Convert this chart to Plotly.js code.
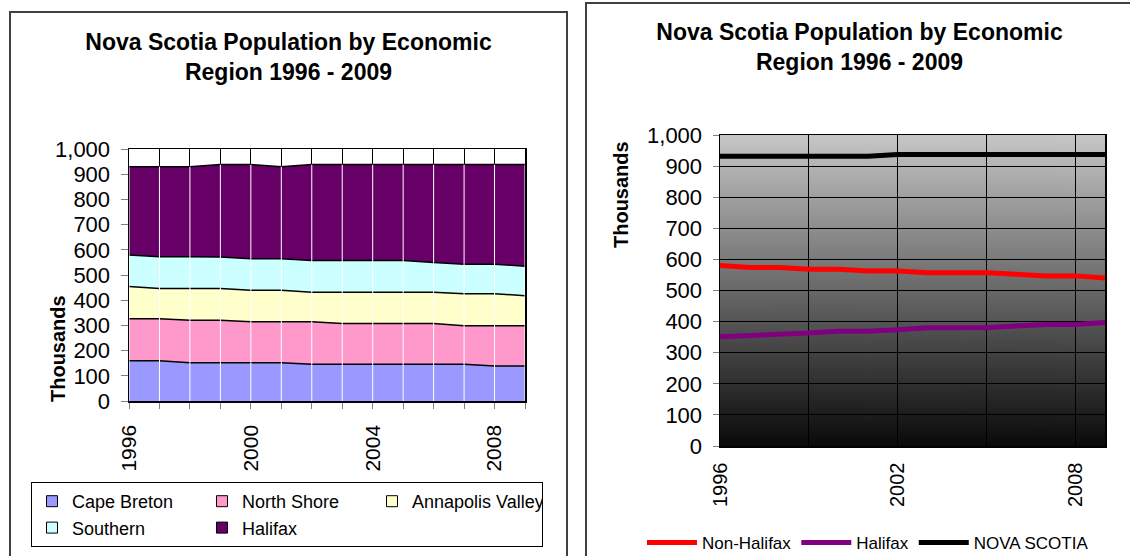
<!DOCTYPE html>
<html>
<head>
<meta charset="utf-8">
<script src="https://cdn.plot.ly/plotly-3.0.1.min.js"></script>
<style>
  html, body { margin: 0; padding: 0; background: #fff; width: 1130px; height: 556px; overflow: hidden; }
  .panel { position: absolute; border: 2px solid #404040; }
  #left-panel { left: 9px; top: 11px; width: 555px; height: 560px; }
  #right-panel { left: 585px; top: 2px; width: 545px; height: 575px; }
  .chart { width: 100%; height: 100%; }
</style>
</head>
<body>
<div class="panel" id="left-panel"><div class="chart" id="stack-chart"></div></div>
<div class="panel" id="right-panel"><div class="chart" id="line-chart"></div></div>
<script>
// population in thousands
const years = [1996, 1997, 1998, 1999, 2000, 2001, 2002, 2003, 2004, 2005, 2006, 2007, 2008, 2009];

const capeBreton      = [160, 160, 152, 152, 152, 152, 146, 146, 146, 146, 146, 146, 139, 139];
const northShore      = [166, 166, 168, 168, 162, 162, 168, 162, 162, 162, 162, 153, 160, 160];
const annapolisValley = [128, 120, 126, 126, 125, 125, 118, 124, 124, 124, 124, 127, 127, 119];
const southern        = [125, 126, 126, 125, 125, 125, 126, 126, 126, 126, 118, 117, 117, 117];
const halifax         = [351, 358, 358, 367, 374, 366, 380, 380, 380, 380, 388, 395, 395, 403];

const nonHalifaxLine = [580, 574, 574, 568, 568, 563, 563, 557, 557, 557, 552, 547, 547, 540];
const halifaxLine    = [351, 355, 355, 363, 369, 369, 374, 380, 380, 380, 386, 391, 391, 397];
const novaScotiaLine = [932, 932, 932, 932, 932, 932, 937, 937, 937, 937, 937, 937, 937, 937];

const stackSeries = [
  { name: "Cape Breton", values: capeBreton, color: "#9999FF" },
  { name: "North Shore", values: northShore, color: "#FF99CC" },
  { name: "Annapolis Valley", values: annapolisValley, color: "#FFFFCC" },
  { name: "Southern", values: southern, color: "#CCFFFF" },
  { name: "Halifax", values: halifax, color: "#660066" },
];

const lineSeries = [
  { name: "Non-Halifax", values: nonHalifaxLine, color: "#FF0000" },
  { name: "Halifax", values: halifaxLine, color: "#800080" },
  { name: "NOVA SCOTIA", values: novaScotiaLine, color: "#000000" },
];

const leftTicks = [1996, 2000, 2004, 2008];
const rightTicks = [1996, 2002, 2008];
const chartTitle = "Nova Scotia Population by Economic<br>Region 1996 - 2009";

const FONT = "Liberation Sans, Arial, sans-serif";
const config = { displayModeBar: false, staticPlot: true };

function titleBlock(topPx, height) {
  return {
    text: chartTitle,
    font: { family: FONT, size: 23, color: "#000", weight: "bold" },
    xref: "container", yref: "container",
    x: 0.5, xanchor: "center",
    y: 1 - topPx / height, yanchor: "top",
  };
}

function renderStackChart() {
  const W = 555, H = 560;
  const totals = years.map((_, i) => stackSeries.reduce((sum, s) => sum + s.values[i], 0));

  const areaTraces = stackSeries.map((s) => ({
    type: "scatter",
    mode: "lines",
    x: years,
    y: s.values,
    name: s.name,
    stackgroup: "regions",
    fillcolor: s.color,
    line: { color: "#000", width: 1.5 },
    showlegend: false,
  }));

  // square swatches like the Excel legend
  const legendTraces = stackSeries.map((s) => ({
    type: "scatter",
    mode: "markers",
    x: [null],
    y: [null],
    name: s.name,
    marker: { symbol: "square", size: 11, color: s.color, line: { color: "#000", width: 1 } },
  }));

  const dividers = years.map((yr, i) => ({
    type: "line",
    xref: "x", yref: "y",
    x0: yr, x1: yr, y0: 0, y1: totals[i],
    line: { color: "#ffffff", width: 1 },
    layer: "above",
  }));

  Plotly.newPlot("stack-chart", [...areaTraces, ...legendTraces], {
    width: W,
    height: H,
    margin: { l: 118, r: 41, t: 136, b: H - 136 - 252 },
    paper_bgcolor: "#fff",
    plot_bgcolor: "#fff",
    font: { family: FONT, size: 22, color: "#000" },
    title: titleBlock(37, H),
    xaxis: {
      range: [1996, 2009],
      tickmode: "array",
      tickvals: leftTicks,
      ticktext: leftTicks.map(String),
      tickangle: -90,
      tickfont: { size: 21 },
      ticks: "outside",
      ticklen: 6,
      tickcolor: "#808080",
      ticklabelstandoff: 8,
      showgrid: true,
      gridcolor: "#000",
      gridwidth: 1,
      minor: { tick0: 1996, dtick: 1, showgrid: true, gridcolor: "#000", gridwidth: 1, ticks: "outside", ticklen: 6, tickcolor: "#808080" },
      showline: true, mirror: true, linecolor: "#000", linewidth: 1.5,
      zeroline: false,
    },
    yaxis: {
      range: [0, 1000],
      dtick: 100,
      tickformat: ",d",
      ticks: "outside",
      ticklen: 7,
      tickcolor: "#808080",
      ticklabelstandoff: 6,
      showgrid: false,
      showline: true, mirror: true, linecolor: "#000", linewidth: 1.5,
      zeroline: false,
    },
    shapes: dividers,
    annotations: [{
      text: "Thousands",
      xref: "paper", yref: "paper",
      x: (47 - 118) / 396, y: 1 - (336 - 136) / 252,
      xanchor: "center", yanchor: "middle",
      textangle: -90,
      showarrow: false,
      font: { family: FONT, size: 20, color: "#000", weight: "bold" },
    }],
    legend: {
      orientation: "h",
      traceorder: "normal",
      x: (20 - 118) / 396, xanchor: "left",
      y: 1 - (469 - 136) / 252, yanchor: "top",
      entrywidth: 125,
      bgcolor: "#fff",
      bordercolor: "#000",
      borderwidth: 1,
      font: { family: FONT, size: 18, color: "#000" },
    },
  }, config);
}

function gradientImage() {
  const canvas = document.createElement("canvas");
  canvas.width = 4;
  canvas.height = 256;
  const ctx = canvas.getContext("2d");
  const grad = ctx.createLinearGradient(0, 0, 0, 256);
  grad.addColorStop(0, "#c6c6c6");
  grad.addColorStop(1, "#0a0a0a");
  ctx.fillStyle = grad;
  ctx.fillRect(0, 0, 4, 256);
  return canvas.toDataURL("image/png");
}

function renderLineChart() {
  const W = 545, H = 575;
  const traces = lineSeries.map((s) => ({
    type: "scatter",
    mode: "lines",
    x: years,
    y: s.values,
    name: s.name,
    line: { color: s.color, width: 5 },
  }));

  Plotly.newPlot("line-chart", traces, {
    width: W,
    height: H,
    margin: { l: 133, r: 27, t: 131, b: H - 131 - 311 },
    paper_bgcolor: "#fff",
    plot_bgcolor: "rgba(0,0,0,0)",
    font: { family: FONT, size: 22, color: "#000" },
    title: titleBlock(36, H),
    images: [{
      source: gradientImage(),
      xref: "paper", yref: "paper",
      x: 0, y: 1, sizex: 1, sizey: 1,
      xanchor: "left", yanchor: "top",
      sizing: "stretch",
      layer: "below",
    }],
    xaxis: {
      range: [1996, 2009],
      tickmode: "array",
      tickvals: rightTicks,
      ticktext: rightTicks.map(String),
      tickangle: -90,
      tickfont: { size: 20 },
      ticks: "",
      ticklabelstandoff: 7,
      showgrid: true,
      gridcolor: "#000",
      minor: { tick0: 1996, dtick: 3, showgrid: true, gridcolor: "#000" },
      showline: true, mirror: true, linecolor: "#000", linewidth: 1.5,
      zeroline: false,
    },
    yaxis: {
      range: [0, 1000],
      dtick: 100,
      tickformat: ",d",
      ticks: "outside",
      ticklen: 6,
      tickcolor: "#808080",
      ticklabelstandoff: 6,
      showgrid: true,
      gridcolor: "#000",
      showline: true, mirror: true, linecolor: "#000", linewidth: 1.5,
      zeroline: false,
    },
    annotations: [{
      text: "Thousands",
      xref: "paper", yref: "paper",
      x: (34 - 133) / 385, y: 1 - (191 - 131) / 311,
      xanchor: "center", yanchor: "middle",
      textangle: -90,
      showarrow: false,
      font: { family: FONT, size: 20, color: "#000", weight: "bold" },
    }],
    legend: {
      orientation: "h",
      x: (55 - 133) / 385, xanchor: "left",
      y: 1 - (539 - 131) / 311, yanchor: "middle",
      itemwidth: 50,
      bgcolor: "rgba(0,0,0,0)",
      font: { family: FONT, size: 17, color: "#000" },
    },
  }, config);
}

renderStackChart();
renderLineChart();
</script>
</body>
</html>
